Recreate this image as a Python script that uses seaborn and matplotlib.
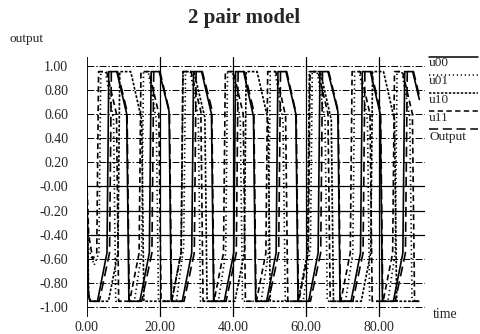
import numpy as np
import pandas as pd
import seaborn as sns
import matplotlib.pyplot as plt
from matplotlib.lines import Line2D

# switching waveforms (time, output) vertices
t_u00 = [0.0, 0.4, 0.9, 2.9,
         5.5, 6.0, 8.2, 10.9, 11.5, 14.5,
         17.1, 17.6, 19.8, 22.5, 23.1, 26.1,
         28.7, 29.2, 31.4, 34.1, 34.7, 37.6,
         40.2, 40.7, 42.9, 45.6, 46.2, 49.2,
         51.8, 52.3, 54.5, 57.2, 57.8, 60.7,
         63.3, 63.8, 66.0, 68.7, 69.3, 72.3,
         74.9, 75.4, 77.6, 80.3, 80.9, 83.9,
         86.5, 87.0, 89.2, 91.0]
y_u00 = [0.02, -0.90, -0.95, -0.95,
         -0.55, 0.95, 0.95, 0.60, -0.95, -0.95,
         -0.55, 0.95, 0.95, 0.62, -0.95, -0.95,
         -0.55, 0.95, 0.95, 0.60, -0.95, -0.95,
         -0.55, 0.95, 0.95, 0.58, -0.95, -0.95,
         -0.55, 0.95, 0.95, 0.60, -0.95, -0.95,
         -0.55, 0.95, 0.95, 0.62, -0.95, -0.95,
         -0.55, 0.95, 0.95, 0.60, -0.95, -0.95,
         -0.55, 0.95, 0.95, 0.72]

t_u01 = [0.0, 0.3, 2.0,
         3.3, 3.8, 5.1, 7.3, 7.9, 13.0,
         15.0, 15.5, 16.8, 19.0, 19.6, 24.5,
         26.5, 27.0, 28.3, 30.5, 31.1, 36.0,
         38.0, 38.5, 39.8, 42.0, 42.6, 47.7,
         49.7, 50.2, 51.5, 53.7, 54.3, 59.2,
         61.2, 61.7, 63.0, 65.2, 65.8, 70.8,
         72.8, 73.3, 74.6, 76.8, 77.4, 82.4,
         84.4, 84.9, 86.2, 88.4, 89.0, 91.0]
y_u01 = [-0.05, -0.50, -0.65,
         -0.55, 0.95, 0.95, 0.55, -0.95, -0.95,
         -0.55, 0.95, 0.95, 0.55, -0.95, -0.95,
         -0.50, 0.95, 0.95, 0.57, -0.95, -0.95,
         -0.55, 0.95, 0.95, 0.55, -0.95, -0.95,
         -0.55, 0.95, 0.95, 0.53, -0.95, -0.95,
         -0.50, 0.95, 0.95, 0.55, -0.95, -0.95,
         -0.55, 0.95, 0.95, 0.55, -0.95, -0.95,
         -0.55, 0.95, 0.95, 0.57, -0.95, -0.95]

t_u10 = [0.0, 0.5, 1.1, 5.9,
         8.5, 9.0, 12.0, 15.0, 15.6, 23.2,
         25.8, 26.3, 29.3, 32.3, 32.9, 40.5,
         43.1, 43.6, 46.6, 49.6, 50.2, 57.8,
         60.4, 60.9, 63.9, 66.9, 67.5, 75.1,
         77.7, 78.2, 81.2, 84.2, 84.8, 91.0]
y_u10 = [0.0, -0.90, -0.95, -0.95,
         -0.55, 0.95, 0.95, 0.55, -0.95, -0.95,
         -0.55, 0.95, 0.95, 0.57, -0.95, -0.95,
         -0.55, 0.95, 0.95, 0.55, -0.95, -0.95,
         -0.55, 0.95, 0.95, 0.55, -0.95, -0.95,
         -0.55, 0.95, 0.95, 0.55, -0.95, -0.95]

t_u11 = [0.0, 0.5, 1.6,
         2.7, 3.2, 5.4, 8.1, 8.7, 11.7,
         14.3, 14.8, 17.0, 19.7, 20.3, 23.2,
         25.8, 26.3, 28.5, 31.2, 31.8, 34.8,
         37.4, 37.9, 40.1, 42.8, 43.4, 46.4,
         49.0, 49.5, 51.7, 54.4, 55.0, 58.0,
         60.6, 61.1, 63.3, 66.0, 66.6, 69.5,
         72.1, 72.6, 74.8, 77.5, 78.1, 81.1,
         83.7, 84.2, 86.4, 89.1, 89.7, 91.0]
y_u11 = [0.05, -0.40, -0.60,
         -0.55, 0.95, 0.95, 0.60, -0.95, -0.95,
         -0.55, 0.95, 0.95, 0.60, -0.95, -0.95,
         -0.55, 0.95, 0.95, 0.62, -0.95, -0.95,
         -0.55, 0.95, 0.95, 0.60, -0.95, -0.95,
         -0.55, 0.95, 0.95, 0.58, -0.95, -0.95,
         -0.55, 0.95, 0.95, 0.60, -0.95, -0.95,
         -0.55, 0.95, 0.95, 0.60, -0.95, -0.95,
         -0.55, 0.95, 0.95, 0.60, -0.95, -0.95]

t_out = [0.0, 0.3, 0.8, 3.4,
         6.2, 6.7, 8.4, 11.0, 11.6, 15.0,
         17.8, 18.3, 20.0, 22.6, 23.2, 26.6,
         29.4, 29.9, 31.6, 34.2, 34.8, 38.1,
         40.9, 41.4, 43.1, 45.7, 46.3, 49.7,
         52.5, 53.0, 54.7, 57.3, 57.9, 61.2,
         64.0, 64.5, 66.2, 68.8, 69.4, 72.8,
         75.6, 76.1, 77.8, 80.4, 81.0, 84.4,
         87.2, 87.7, 89.4, 91.0]
y_out = [0.0, -0.85, -0.95, -0.95,
         -0.55, 0.95, 0.95, 0.62, -0.95, -0.95,
         -0.55, 0.95, 0.95, 0.62, -0.95, -0.95,
         -0.55, 0.95, 0.95, 0.64, -0.95, -0.95,
         -0.55, 0.95, 0.95, 0.62, -0.95, -0.95,
         -0.55, 0.95, 0.95, 0.60, -0.95, -0.95,
         -0.55, 0.95, 0.95, 0.62, -0.95, -0.95,
         -0.55, 0.95, 0.95, 0.62, -0.95, -0.95,
         -0.55, 0.95, 0.95, 0.75]

series_names = ['u00', 'u01', 'u10', 'u11', 'Output']
x_ticks = [0, 20, 40, 60, 80]
x_labels = ['0.00', '20.00', '40.00', '60.00', '80.00']
y_ticks = [-1.0, -0.8, -0.6, -0.4, -0.2, 0.0, 0.2, 0.4, 0.6, 0.8, 1.0]
y_labels = ['-1.00', '-0.80', '-0.60', '-0.40', '-0.20', '-0.00',
            '0.20', '0.40', '0.60', '0.80', '1.00']

sns.set_style('white')
plt.rcParams['font.family'] = ['Liberation Serif', 'DejaVu Serif']

frames = []
for name, t, y in zip(series_names,
                      [t_u00, t_u01, t_u10, t_u11, t_out],
                      [y_u00, y_u01, y_u10, y_u11, y_out]):
    frames.append(pd.DataFrame({'time': t, 'value': y, 'series': name}))
df = pd.concat(frames, ignore_index=True)

dash_map = {'u00': '', 'u01': (0.8, 1.8), 'u10': (1.6, 1.0),
            'u11': (3.5, 2.2), 'Output': (6, 3)}

fig = plt.figure(figsize=(4.8, 3.34), dpi=100)
ax = fig.add_axes([0.181, 0.051, 0.704, 0.778])

# grid as in the scan
for v in y_ticks:
    if v in (0.0, -0.2, -0.4):
        ax.axhline(v, color='black', lw=0.9, zorder=1)
    else:
        ax.axhline(v, color='black', lw=0.7, linestyle=(0, (7, 2, 1.5, 2)), zorder=1)
for v in x_ticks[1:]:
    ax.axvline(v, color='black', lw=0.9, zorder=1)
ax.axvline(0, color='black', lw=1.3, zorder=1)

sns.lineplot(data=df, x='time', y='value', hue='series', style='series',
             palette={n: 'black' for n in series_names}, dashes=dash_map,
             estimator=None, sort=False, legend=False, linewidth=1.2,
             ax=ax, zorder=3)

ax.set_xlim(0, 92.5)
ax.set_ylim(-1.08, 1.07)
ax.set_xticks(x_ticks)
ax.set_xticklabels(x_labels)
ax.set_yticks(y_ticks)
ax.set_yticklabels(y_labels)
ax.tick_params(axis='y', length=11.5, width=0.8, pad=2, labelsize=10, color='black')
ax.tick_params(axis='x', length=0, pad=3, labelsize=10)
ax.set_xlabel('')
ax.set_ylabel('')
for s in ax.spines.values():
    s.set_visible(False)

# legend: line sample above each label
leg_y_line = [57, 75, 93, 111, 129]
leg_y_text = [63, 81, 100, 118, 137]
for name, yl, yt in zip(series_names, leg_y_line, leg_y_text):
    yf = 1 - yl / 334
    line = Line2D([429 / 480, 478 / 480], [yf, yf], color='black', lw=1.1)
    if dash_map[name]:
        line.set_dashes(dash_map[name])
    fig.add_artist(line)
    fig.text(429 / 480, 1 - yt / 334, name, ha='left', va='center', fontsize=9.5)

fig.text(244.5 / 480, 1 - 18 / 334, '2 pair model', ha='center', va='center',
         fontsize=15, fontweight='bold')
fig.text(10 / 480, 1 - 39 / 334, 'output', ha='left', va='center', fontsize=9.5)
fig.text(433 / 480, 1 - 315 / 334, 'time', ha='left', va='center', fontsize=10)

fig.savefig('out.png', dpi=100)
